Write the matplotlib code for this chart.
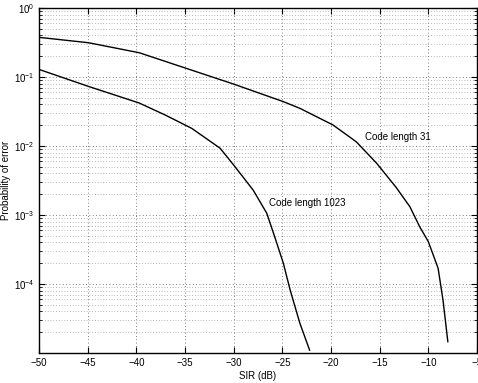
import numpy as np
import matplotlib
matplotlib.use('Agg')
import matplotlib.pyplot as plt
from matplotlib.ticker import LogLocator, FixedLocator, NullFormatter

plt.rcParams['font.family'] = ['Liberation Sans', 'DejaVu Sans']

# code length 31
sir31 = [-50, -44.9, -39.7, -34.9, -30.0, -24.9, -23.2, -19.8, -17.4, -15.3,
         -13.3, -11.9, -10.9, -10.0, -9.0, -8.5, -8.0]
pe31 = [0.376, 0.314, 0.225, 0.134, 0.079, 0.044, 0.0352, 0.0202, 0.0115, 0.0056,
        0.0025, 0.00132, 0.00068, 0.00041, 0.000169, 5.9e-5, 1.46e-5]

# code length 1023
sir1023 = [-50, -44.9, -39.7, -37.0, -34.3, -31.4, -30.0, -28.0, -26.6, -25.8,
           -24.9, -24.2, -23.2, -22.2]
pe1023 = [0.129, 0.073, 0.042, 0.028, 0.018, 0.0093, 0.0053, 0.0023, 0.00106,
          0.00049, 0.0002, 8.2e-5, 2.7e-5, 1.1e-5]

fig = plt.figure(figsize=(4.78, 3.83), dpi=100)
ax = fig.add_axes([0.0816, 0.0783, 0.9164, 0.9007])

ax.semilogy(sir31, pe31, color='black', lw=1.0)
ax.semilogy(sir1023, pe1023, color='black', lw=1.0)

ax.text(-16.5, 0.0135, 'Code length 31', fontsize=7, va='center')
ax.text(-26.4, 0.00149, 'Code length 1023', fontsize=7, va='center')

ax.set_xlim(-50, -5)
ax.set_ylim(1e-5, 1)
ax.set_xticks(np.arange(-50, -4, 5))
ax.yaxis.set_major_locator(FixedLocator([1e-4, 1e-3, 1e-2, 1e-1, 1e0]))
ax.yaxis.set_minor_locator(LogLocator(base=10, subs=np.arange(2, 10), numticks=20))
ax.yaxis.set_minor_formatter(NullFormatter())

dots = (0, (1, 3))
ax.grid(True, which='major', linestyle=dots, color='#555555', lw=0.6)
ax.grid(True, which='minor', axis='y', linestyle=dots, color='#777777', lw=0.5)

ax.tick_params(which='both', direction='in', top=True, right=True, labelsize=7)
ax.tick_params(which='major', length=4)
ax.tick_params(which='minor', length=2)
for s in ax.spines.values():
    s.set_linewidth(1.0)

ax.set_xlabel('SIR (dB)', fontsize=7, labelpad=2)
ax.set_ylabel('Probability of error', fontsize=7, labelpad=2)

fig.savefig('out.png', dpi=100)
